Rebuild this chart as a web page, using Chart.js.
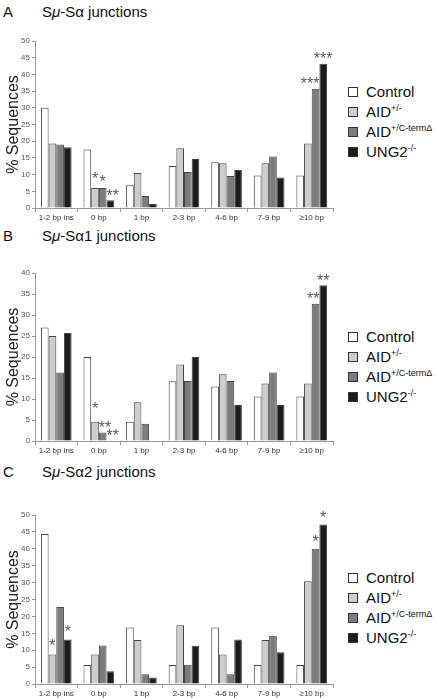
<!DOCTYPE html>
<html>
<head>
<meta charset="utf-8">
<script src="https://cdn.jsdelivr.net/npm/chart.js@4"></script>
<style>
  body { margin: 0; width: 439px; height: 698px; overflow: hidden; background: #fff;
         font-family: "Liberation Sans", Arial, Helvetica, sans-serif; position: relative; }
  .panel-letter, .panel-title { position: absolute; font-size: 15px; color: #111; line-height: 16px; }
  .panel-letter { left: 3px; }
  .panel-title { left: 42px; }
  canvas { position: absolute; left: 0; }
  .legend { position: absolute; left: 348px; font-size: 15px; color: #111; }
  .legend div { height: 20px; line-height: 20px; white-space: nowrap; }
  .legend span.box { display: inline-block; width: 8px; height: 8px; border: 1px solid #333;
                     margin-right: 8px; vertical-align: 0px; }
  .legend sup { font-size: 9px; vertical-align: 6px; line-height: 0; }
</style>
</head>
<body>

<div class="panel-letter" style="top:4px">A</div>
<div class="panel-title" style="top:4px">S<i>μ</i>-Sα junctions</div>
<canvas id="chartA" width="336" height="196" style="top:30px"></canvas>
<div class="legend" id="legendA" style="top:82px"></div>

<div class="panel-letter" style="top:228px">B</div>
<div class="panel-title" style="top:228px">S<i>μ</i>-Sα1 junctions</div>
<canvas id="chartB" width="336" height="197" style="top:262px"></canvas>
<div class="legend" id="legendB" style="top:327px"></div>

<div class="panel-letter" style="top:464px">C</div>
<div class="panel-title" style="top:464px">S<i>μ</i>-Sα2 junctions</div>
<canvas id="chartC" width="336" height="198" style="top:504px"></canvas>
<div class="legend" id="legendC" style="top:568px"></div>

<script>
// categories (junction microhomology length)
const categories = ['1-2 bp ins', '0 bp', '1 bp', '2-3 bp', '4-6 bp', '7-9 bp', '≥10 bp'];

// series names and fills
const seriesNames = ['Control', 'AID<sup>+/-</sup>', 'AID<sup>+/C-term&#916;</sup>', 'UNG2<sup>-/-</sup>'];
const seriesColors = ['#ffffff', '#cdcdcd', '#7c7c7c', '#1c1c1c'];

// Panel A: Sμ-Sα
const controlA = [30.0, 17.5, 6.8, 12.6, 13.7, 9.7, 9.7];
const aidHetA = [19.3, 6.0, 10.5, 17.9, 13.4, 13.4, 19.3];
const aidCtermA = [19.0, 6.0, 3.6, 10.8, 9.6, 15.4, 35.7];
const ungA = [18.2, 2.3, 1.2, 14.7, 11.4, 9.1, 43.2];
// [series index, category index, text, alignment, extra lift]
const starsA = [[1, 1, '*', 'c', 4], [2, 1, '*', 'c', 1], [3, 1, '**', 'l'], [2, 6, '***', 'r'], [3, 6, '***', 'c']];

// Panel B: Sμ-Sα1
const controlB = [27.0, 20.0, 4.6, 14.2, 13.0, 10.6, 10.6];
const aidHetB = [25.0, 4.6, 9.2, 18.2, 15.9, 13.7, 13.7];
const aidCtermB = [16.3, 2.0, 4.1, 14.3, 14.3, 16.3, 32.7];
const ungB = [25.7, 0, 0, 20.0, 8.6, 8.6, 37.1];
const starsB = [[1, 1, '*', 'c', 8], [2, 1, '**', 'l'], [3, 1, '**', 'l'], [2, 6, '**', 'r'], [3, 6, '**', 'c']];

// Panel C: Sμ-Sα2
const controlC = [44.4, 5.6, 16.7, 5.6, 16.7, 5.6, 5.6];
const aidHetC = [8.7, 8.7, 13.0, 17.4, 8.7, 13.0, 30.4];
const aidCtermC = [22.8, 11.4, 2.9, 5.7, 2.9, 14.3, 40.0];
const ungC = [13.2, 3.8, 1.9, 11.3, 13.2, 9.4, 47.2];
const starsC = [[1, 0, '*', 'c', 4], [3, 0, '*', 'c', 3], [2, 6, '*', 'c', 2], [3, 6, '*', 'c', 2]];

const fontFamily = '"Liberation Sans", Arial, Helvetica, sans-serif';

// asterisks over bars, placed from the bar elements
const starPlugin = {
    id: 'stars',
    afterDatasetsDraw(chart, args, opts) {
        const ctx = chart.ctx;
        ctx.save();
        ctx.font = '16px ' + fontFamily;
        ctx.fillStyle = '#5a5a5a';
        ctx.textBaseline = 'middle';
        (opts.marks || []).forEach(([ds, idx, txt, align, extra]) => {
            const bar = chart.getDatasetMeta(ds).data[idx];
            const half = bar.width / 2;
            let x = bar.x;
            ctx.textAlign = 'center';
            if (align === 'l') { x = bar.x - half; ctx.textAlign = 'left'; }
            if (align === 'r') { x = bar.x + half; ctx.textAlign = 'right'; }
            ctx.fillText(txt, x, bar.y - 4 - (extra || 0));
        });
        ctx.restore();
    }
};

function makeChart(id, series, yMax, stars) {
    new Chart(document.getElementById(id), {
        type: 'bar',
        data: {
            labels: categories,
            datasets: series.map((values, i) => ({
                label: seriesNames[i],
                data: values,
                backgroundColor: seriesColors[i],
                borderColor: '#444',
                borderWidth: 1,
                borderSkipped: 'bottom',
                categoryPercentage: 0.72,
                barPercentage: 1.0
            }))
        },
        options: {
            responsive: false,
            animation: false,
            layout: { padding: { top: 11, right: 3, left: 0, bottom: 0 } },
            plugins: {
                legend: { display: false },
                tooltip: { enabled: false },
                stars: { marks: stars }
            },
            scales: {
                x: {
                    afterFit: s => { s.height = 18; },
                    grid: { display: true, drawOnChartArea: false, offset: true, tickLength: 4, color: '#999' },
                    border: { color: '#999' },
                    ticks: { font: { size: 8, family: fontFamily }, color: '#333', maxRotation: 0, autoSkip: false, padding: 1 }
                },
                y: {
                    min: 0,
                    max: yMax,
                    afterFit: s => { s.width = 35; },
                    grid: { display: true, drawOnChartArea: false, tickLength: 3, color: '#999' },
                    border: { color: '#999' },
                    ticks: { stepSize: 5, font: { size: 8, family: fontFamily }, color: '#555', padding: 2 },
                    title: { display: true, text: '% Sequences', font: { size: 16, family: fontFamily }, color: '#222', padding: { top: 4, bottom: 0 } }
                }
            }
        },
        plugins: [starPlugin]
    });
}

function makeLegend(id) {
    document.getElementById(id).innerHTML = seriesNames.map((name, i) =>
        `<div><span class="box" style="background:${seriesColors[i]}"></span>${name}</div>`).join('');
}

makeChart('chartA', [controlA, aidHetA, aidCtermA, ungA], 50, starsA);
makeChart('chartB', [controlB, aidHetB, aidCtermB, ungB], 40, starsB);
makeChart('chartC', [controlC, aidHetC, aidCtermC, ungC], 50, starsC);
makeLegend('legendA');
makeLegend('legendB');
makeLegend('legendC');
</script>
</body>
</html>
